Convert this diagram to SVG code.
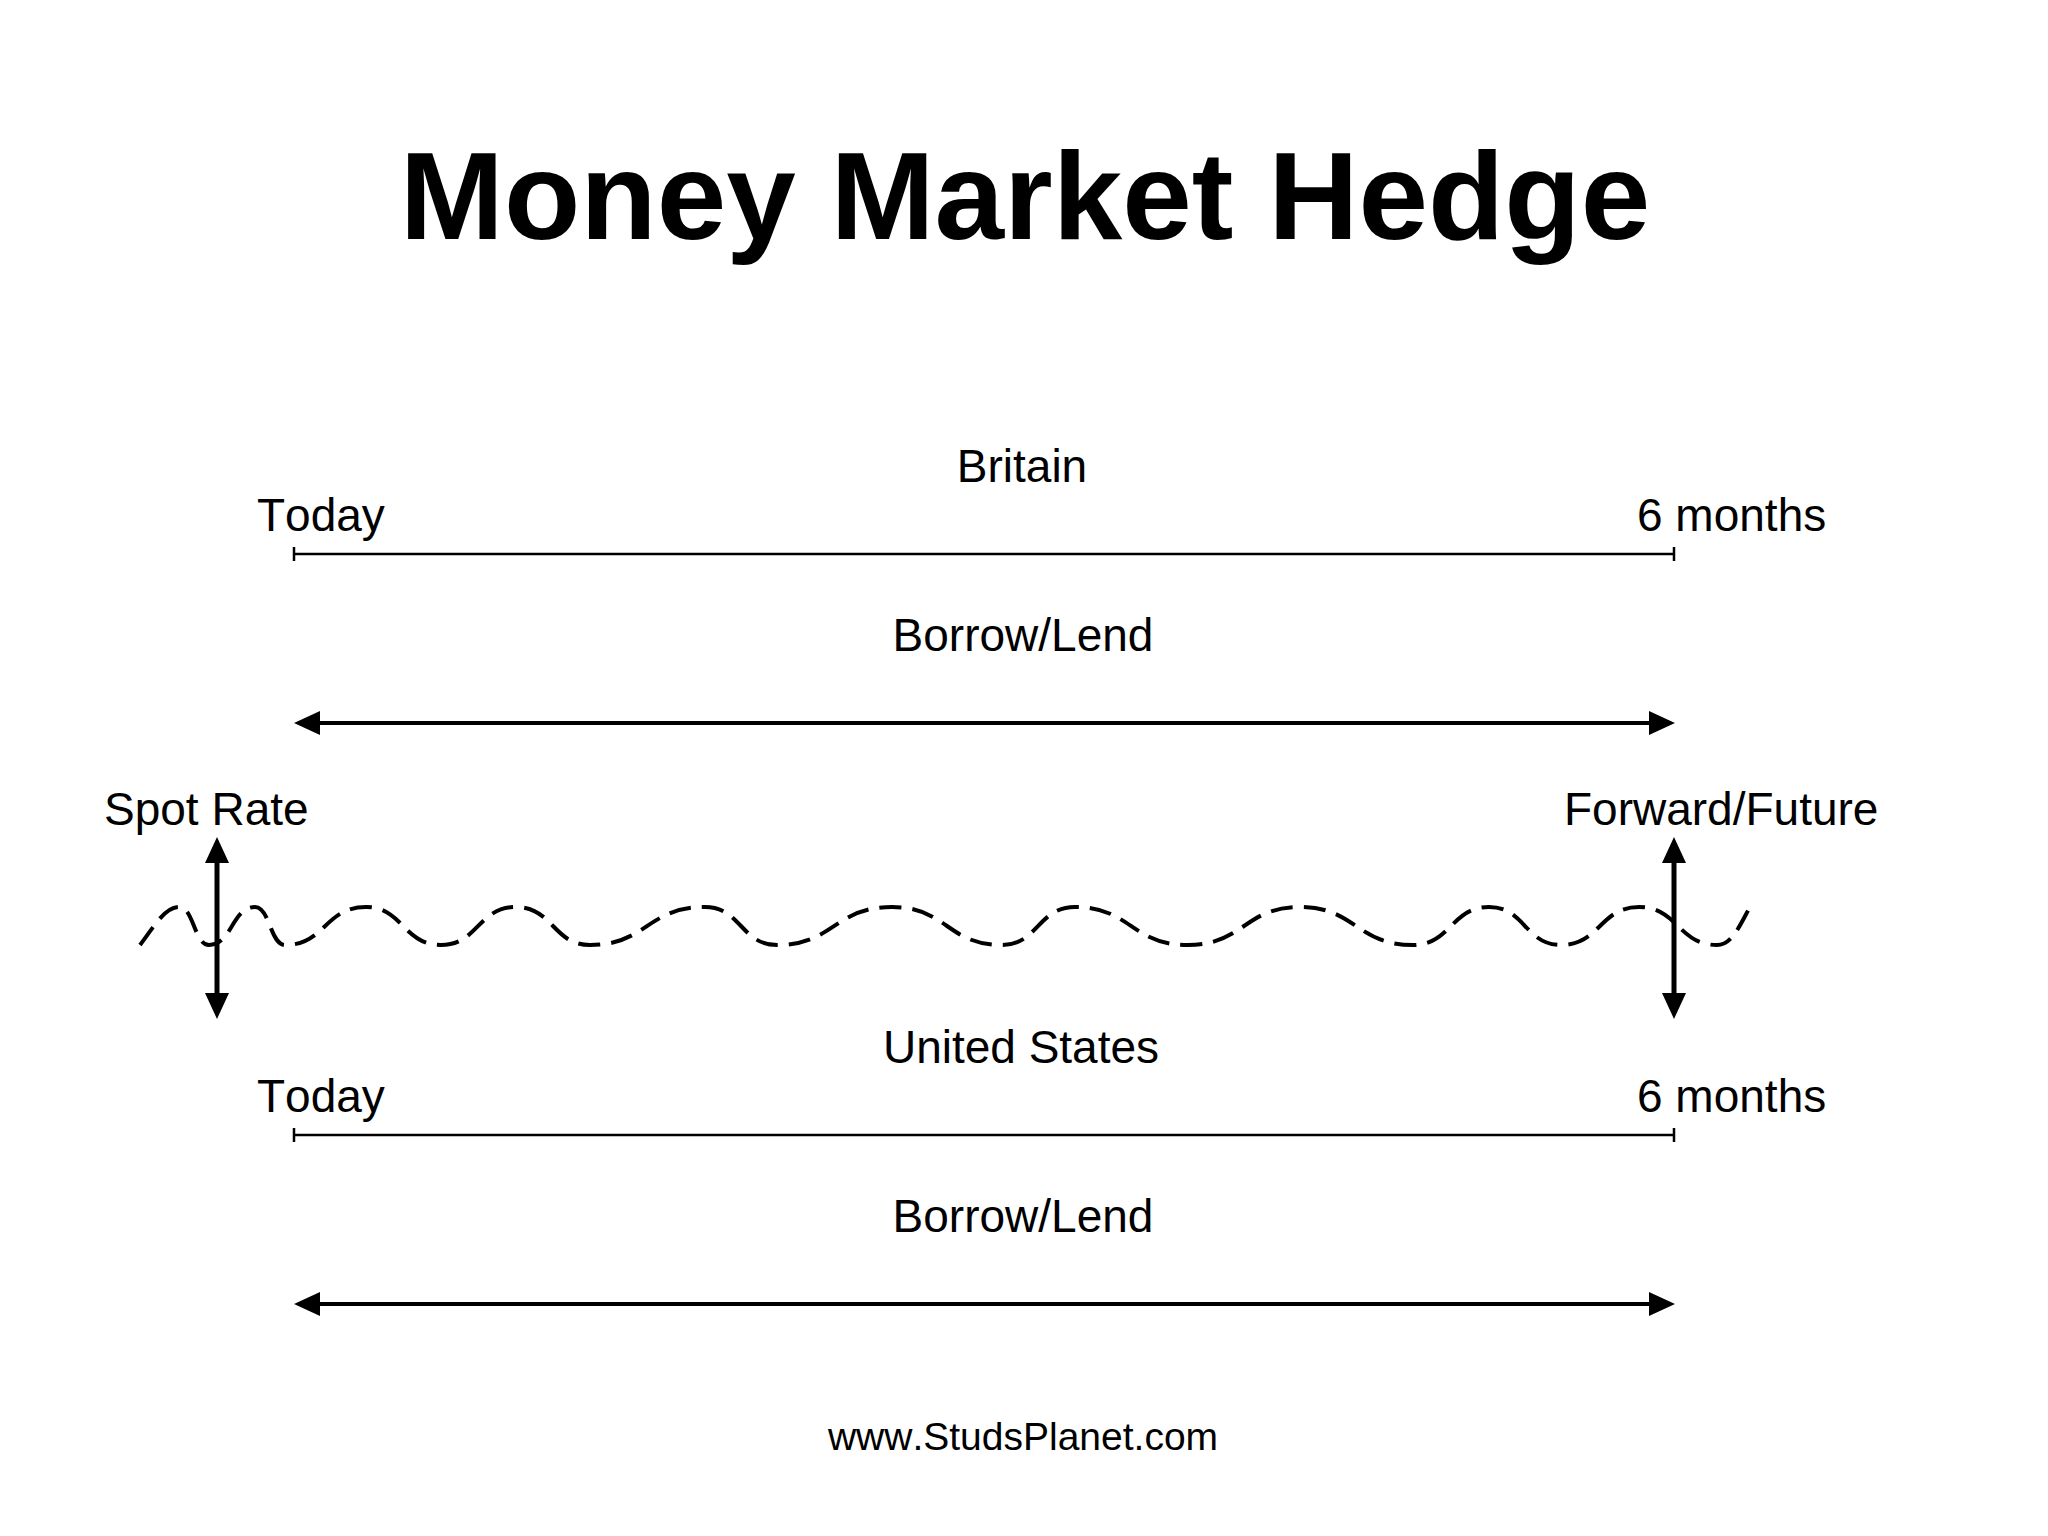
<svg xmlns="http://www.w3.org/2000/svg" width="2048" height="1536" viewBox="0 0 2048 1536">
<defs>
<style>
text{font-family:"Liberation Sans",Arial,sans-serif;fill:#000;font-kerning:none}
.lbl{font-size:46px}
.title{font-size:125px;font-weight:bold}
.web{font-size:39px}
.tl{stroke:#000;stroke-width:2.5;fill:none}
.arr{stroke:#000;stroke-width:4;fill:none;marker-start:url(#ah);marker-end:url(#ah)}
.varr{stroke:#000;stroke-width:5;fill:none;marker-start:url(#ah);marker-end:url(#ah)}
.wave{stroke:#000;stroke-width:4;fill:none;stroke-dasharray:22 11}
</style>
<marker id="ah" viewBox="0 0 26 24" refX="0" refY="12" markerWidth="26" markerHeight="24" markerUnits="userSpaceOnUse" orient="auto-start-reverse">
<path d="M0,0 L26,12 L0,24 Z" fill="#000"/>
</marker>
</defs>
<rect width="2048" height="1536" fill="#fff"/>
<text class="title" x="1025" y="239" text-anchor="middle">Money Market Hedge</text>
<g id="britain">
<text class="lbl" x="1022" y="482" text-anchor="middle">Britain</text>
<text class="lbl" x="257" y="531">Today</text>
<text class="lbl" x="1637" y="531">6 months</text>
<text class="lbl" x="1023" y="651" text-anchor="middle">Borrow/Lend</text>
</g>
<g id="rates">
<text class="lbl" x="104" y="825">Spot Rate</text>
<text class="lbl" x="1564" y="825">Forward/Future</text>
</g>
<g id="us">
<text class="lbl" x="1021" y="1063" text-anchor="middle">United States</text>
<text class="lbl" x="257" y="1112">Today</text>
<text class="lbl" x="1637" y="1112">6 months</text>
<text class="lbl" x="1023" y="1232" text-anchor="middle">Borrow/Lend</text>
</g>
<text class="web" x="1023" y="1450" text-anchor="middle">www.StudsPlanet.com</text>
<g id="connectors">
<path class="tl" d="M294,554 H1674 M294,547 V561 M1674,547 V561"/>
<line class="arr" x1="320" y1="723" x2="1649" y2="723"/>
<path class="tl" d="M294,1135 H1674 M294,1128 V1142 M1674,1128 V1142"/>
<line class="arr" x1="320" y1="1304" x2="1649" y2="1304"/>
<path class="wave" d="M140,945 C155,925 165,907 179,907 C194,907 194,945 209,945 C232,945 232,907 255,907 C270,907 270,945 285,945 C325,945 325,907 366,907 C403,907 403,945 441,945 C478,945 478,907 516,907 C553,907 553,945 590,945 C647,945 647,907 705,907 C741,907 741,945 777,945 C834,945 834,907 892,907 C947,907 947,945 1002,945 C1038,945 1038,907 1075,907 C1131,907 1131,945 1188,945 C1244,945 1244,907 1300,907 C1356,907 1356,945 1413,945 C1451,945 1451,907 1489,907 C1525,907 1525,945 1561,945 C1600,945 1600,907 1639,907 C1678,907 1678,945 1717,945 C1732,945 1740,925 1750,907"/>
<line class="varr" x1="217" y1="863" x2="217" y2="993"/>
<line class="varr" x1="1674" y1="863" x2="1674" y2="993"/>
</g>
</svg>
